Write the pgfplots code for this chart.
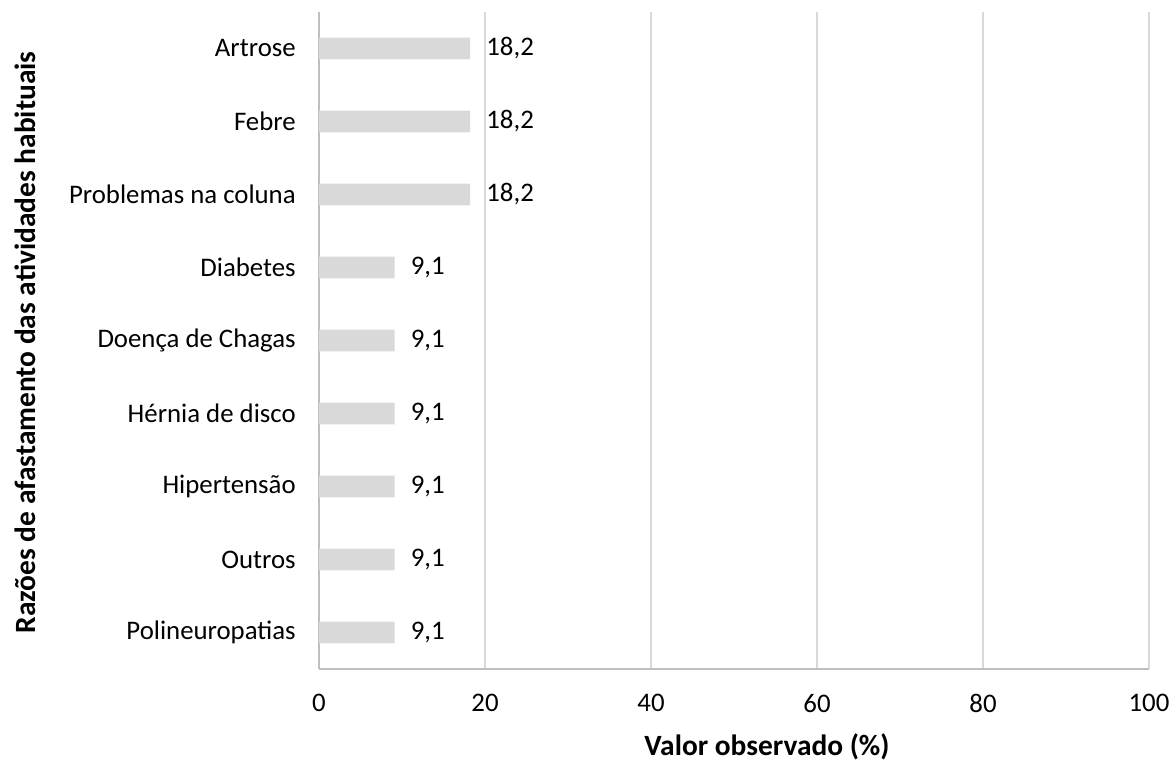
\documentclass[border=0pt]{standalone}
\usepackage{fontspec}
\setmainfont{Carlito}
\usepackage{pgfplots}
\pgfplotsset{compat=1.18}
\definecolor{bargray}{HTML}{D9D9D9}
\definecolor{gridgray}{HTML}{D9D9D9}
\definecolor{axisgray}{HTML}{BFBFBF}
\newcommand{\tickfont}{\fontsize{13.4pt}{16pt}\selectfont}
\newcommand{\labfont}{\bfseries\fontsize{14.7pt}{17.6pt}\selectfont}
\begin{document}
\tickfont
\begin{tikzpicture}
\begin{axis}[
  scale only axis, width=415pt, height=328.5pt,
  xbar, xmin=0, xmax=100, ymin=-0.5, ymax=8.5,
  bar width=0.3,
  ytick={0,...,8},
  yticklabels={Polineuropatias,Outros,Hipertensão,Hérnia de disco,Doença de Chagas,Diabetes,Problemas na coluna,Febre,Artrose},
  xtick={0,20,...,100},
  xmajorgrids, grid style={color=gridgray, line width=0.6pt},
  axis x line*=bottom, axis y line*=left,
  axis line style={color=axisgray, line width=0.75pt, -},
  major tick length=0pt,
  /pgf/number format/assume math mode=true,
  tick label style={font=\tickfont, text=black},
  xticklabel style={yshift=-8pt},
  yticklabel style={xshift=-7pt},
  nodes near coords,
  nodes near coords style={anchor=west, xshift=3.5pt, font=\tickfont,
    /pgf/number format/.cd, fixed, fixed zerofill, precision=1, use comma, assume math mode=true},
]
\addplot[fill=bargray, draw=none] coordinates {
  (9.1,0) (9.1,1) (9.1,2) (9.1,3) (9.1,4) (9.1,5) (18.2,6) (18.2,7) (18.2,8)
};
\coordinate (ll) at (rel axis cs:0,0);
\coordinate (lm) at (rel axis cs:0,0.5);
\coordinate (ur) at (rel axis cs:1,1);
\coordinate (bm) at (rel axis cs:0.5,0);
\end{axis}
\node[rotate=90, font=\labfont] at ([xshift=-147pt,yshift=-1pt]lm) {Razões de afastamento das atividades habituais};
\node[font=\labfont] at ([xshift=16.5pt,yshift=-39pt]bm) {Valor observado (\%)};
\pgfresetboundingbox
\useasboundingbox ([shift={(-159.5pt,-47pt)}]ll) rectangle ([shift={(13pt,6pt)}]ur);
\end{tikzpicture}
\end{document}
